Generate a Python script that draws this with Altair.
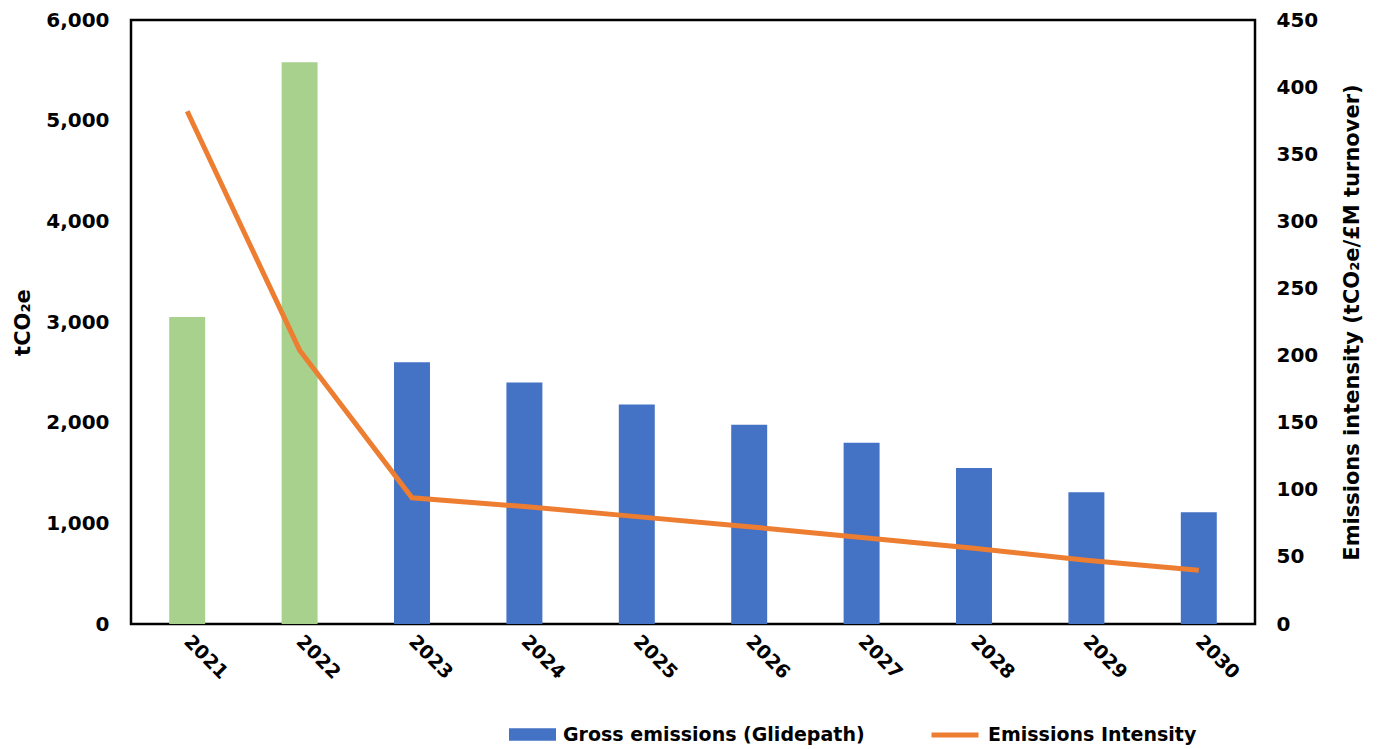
import altair as alt
import pandas as pd

years = ["2021", "2022", "2023", "2024", "2025", "2026", "2027", "2028", "2029", "2030"]
emissions = [3050, 5580, 2600, 2400, 2180, 1980, 1800, 1550, 1310, 1110]
series = ["Actual", "Actual"] + ["Gross emissions (Glidepath)"] * 8
intensity = [382, 204, 94, 87.5, 80, 72.5, 64.5, 56.5, 47.5, 40]
line_name = ["Emissions Intensity"] * 10

df = pd.DataFrame({
    "year": years,
    "emissions": emissions,
    "series": series,
    "intensity": intensity,
    "line": line_name,
})

FONT = "DejaVu Sans"

x_enc = alt.X(
    "year:N",
    scale=alt.Scale(paddingInner=0.68, paddingOuter=0.34),
    axis=alt.Axis(title=None, labelAngle=45, labelAlign="left", labelBaseline="middle",
                  labelPadding=14, ticks=False, domain=False,
                  labelFontSize=19, labelFontWeight="bold", labelColor="#000000"),
)

bars = alt.Chart(df).mark_bar().encode(
    x=x_enc,
    y=alt.Y(
        "emissions:Q",
        scale=alt.Scale(domain=[0, 6000]),
        axis=alt.Axis(title="tCO₂e", values=[0, 1000, 2000, 3000, 4000, 5000, 6000],
                      format=",.0f", grid=False, ticks=False, domain=False,
                      labelPadding=22, titlePadding=12,
                      labelFontSize=20, labelFontWeight="bold", labelColor="#000000",
                      titleFontSize=21, titleFontWeight="bold", titleColor="#000000"),
    ),
    fill=alt.Fill(
        "series:N",
        scale=alt.Scale(domain=["Gross emissions (Glidepath)", "Actual"],
                        range=["#4472C4", "#A9D18E"]),
        legend=alt.Legend(values=["Gross emissions (Glidepath)"], title=None,
                          orient="none", legendX=378, legendY=691,
                          symbolType="M-1,-0.27H1V0.27H-1Z",
                          symbolSize=2209, symbolStrokeWidth=0,
                          labelFontSize=19, labelFontWeight="bold", labelColor="#000000",
                          labelLimit=400, labelOffset=7),
    ),
)

line = alt.Chart(df).mark_line(strokeWidth=5).encode(
    x=x_enc,
    y=alt.Y(
        "intensity:Q",
        scale=alt.Scale(domain=[0, 450]),
        axis=alt.Axis(orient="right", title="Emissions intensity (tCO₂e/£M turnover)",
                      titleAngle=270, titleBaseline="top",
                      values=[0, 50, 100, 150, 200, 250, 300, 350, 400, 450],
                      grid=False, ticks=False, domain=False,
                      labelPadding=21, titlePadding=24,
                      labelFontSize=20, labelFontWeight="bold", labelColor="#000000",
                      titleFontSize=21, titleFontWeight="bold", titleColor="#000000"),
    ),
    color=alt.Color(
        "line:N",
        scale=alt.Scale(domain=["Emissions Intensity"], range=["#ED7D31"]),
        legend=alt.Legend(title=None, orient="none", legendX=798, legendY=689,
                          symbolType="stroke",
                          symbolSize=2209, symbolStrokeWidth=5,
                          labelFontSize=19, labelFontWeight="bold", labelColor="#000000",
                          labelLimit=400, labelOffset=7),
    ),
)

chart = alt.layer(bars, line).resolve_scale(y="independent").properties(
    width=1124, height=604,
    padding={"left": 4, "top": 2, "right": 5, "bottom": 0},
).configure(font=FONT).configure_view(stroke="#000000", strokeWidth=2.5).configure_legend(
    padding=0
)

chart.save("out.html", embed_options={"renderer": "svg", "actions": False})
